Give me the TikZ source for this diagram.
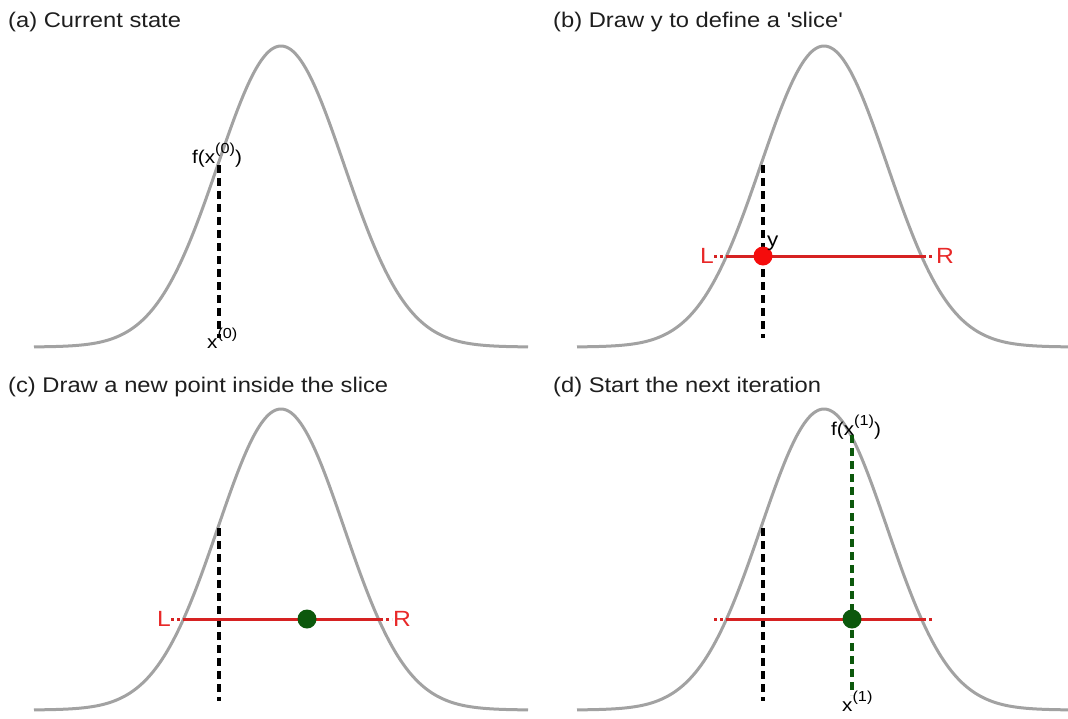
\documentclass[tikz,border=0pt]{standalone}
\usepackage{fontspec}
\setmainfont{Liberation Sans}[FakeStretch=1.12]
\definecolor{curvegray}{RGB}{162,162,162}
\definecolor{slicered}{RGB}{214,34,34}
\definecolor{labred}{RGB}{232,40,40}
\definecolor{dotred}{RGB}{245,12,12}
\definecolor{dkgreen}{RGB}{12,88,12}
\definecolor{titlegray}{RGB}{30,30,30}
\newcommand\supx[1]{\raisebox{0.5em}{\fontsize{14.5}{14.5}\selectfont #1}}
\begin{document}
\begin{tikzpicture}[x=1pt,y=-1pt,
  curve/.style={draw=curvegray, line width=3pt},
  blackdash/.style={draw=black, line width=3.2pt, dash pattern=on 8pt off 5pt},
  greendash/.style={draw=dkgreen, line width=3.2pt, dash pattern=on 8pt off 5pt},
  slice/.style={draw=slicered, line width=3pt},
  sliceext/.style={draw=slicered, line width=3pt, dash pattern=on 3pt off 3pt},
  title/.style={anchor=base west, inner sep=0pt, text=titlegray, font=\fontsize{21.2}{21.2}\selectfont},
  lab/.style={anchor=base west, inner sep=0pt, text=black, font=\fontsize{18.5}{18.5}\selectfont},
  lrlab/.style={inner sep=0pt, text=labred, font=\fontsize{22}{22}\selectfont},
  reddot/.style={circle, fill=dotred, minimum size=19pt, inner sep=0pt},
  greendot/.style={circle, fill=dkgreen, minimum size=19pt, inner sep=0pt}
]
\useasboundingbox (0,0) rectangle (1068,718);

% titles
\node[title] (ta) at (8,27) {(a) Current state};
\node[title] (tb) at (553,27) {(b) Draw y to define a \textquotesingle slice\textquotesingle};
\node[title] (tc) at (8,392) {(c) Draw a new point inside the slice};
\node[title] (td) at (553,392) {(d) Start the next iteration};

% panel a
\begin{scope}[shift={(0,0)}]
  \draw[curve] plot[domain=34:528, samples=140, smooth] (\x,{347-301*exp(-0.5*((\x-281)/63)^2)});
  \coordinate (a-top) at (219,165);
  \coordinate (a-bot) at (219,338);
  \draw[blackdash] (a-top) -- (a-bot);
  \node[lab] (a-f) at (192,163) {f(x\supx{(0)})};
  \node[lab] (a-x) at (207,348) {x\supx{(0)}};
\end{scope}

% panel b
\begin{scope}[shift={(543,0)}]
  \draw[curve] plot[domain=34:528, samples=140, smooth] (\x,{347-301*exp(-0.5*((\x-281)/63)^2)});
  \coordinate (b-top) at (220,165);
  \coordinate (b-bot) at (220,338);
  \draw[blackdash] (b-top) -- (b-bot);
  \coordinate (b-l) at (171,256);
  \coordinate (b-sl) at (184,256);
  \coordinate (b-sr) at (380,256);
  \coordinate (b-r) at (392,256);
  \draw[sliceext] (b-l) -- (b-sl);
  \draw[slice] (b-sl) -- (b-sr);
  \draw[sliceext] (b-sr) -- (b-r);
  \node[lrlab, anchor=east] (b-L) at (b-l) {L};
  \node[lrlab, anchor=west] (b-R) at ([xshift=1pt]b-r) {R};
  \node[reddot] (b-y) at (220,256) {};
  \node[lab, font=\fontsize{20}{20}\selectfont] (b-ylab) at (224,246) {y};
\end{scope}

% panel c
\begin{scope}[shift={(0,363)}]
  \draw[curve] plot[domain=34:528, samples=140, smooth] (\x,{347-301*exp(-0.5*((\x-281)/63)^2)});
  \coordinate (c-top) at (219,165);
  \coordinate (c-bot) at (219,338);
  \draw[blackdash] (c-top) -- (c-bot);
  \coordinate (c-l) at (171,256);
  \coordinate (c-sl) at (184,256);
  \coordinate (c-sr) at (380,256);
  \coordinate (c-r) at (392,256);
  \draw[sliceext] (c-l) -- (c-sl);
  \draw[slice] (c-sl) -- (c-sr);
  \draw[sliceext] (c-sr) -- (c-r);
  \node[lrlab, anchor=east] (c-L) at (c-l) {L};
  \node[lrlab, anchor=west] (c-R) at ([xshift=1pt]c-r) {R};
  \node[greendot] (c-new) at (307,256) {};
\end{scope}

% panel d
\begin{scope}[shift={(543,363)}]
  \draw[curve] plot[domain=34:528, samples=140, smooth] (\x,{347-301*exp(-0.5*((\x-281)/63)^2)});
  \coordinate (d-top) at (220,165);
  \coordinate (d-bot) at (220,338);
  \draw[blackdash] (d-top) -- (d-bot);
  \coordinate (d-l) at (171,256);
  \coordinate (d-sl) at (184,256);
  \coordinate (d-sr) at (380,256);
  \coordinate (d-r) at (392,256);
  \draw[sliceext] (d-l) -- (d-sl);
  \draw[slice] (d-sl) -- (d-sr);
  \draw[sliceext] (d-sr) -- (d-r);
  \coordinate (d-gtop) at (309,72);
  \coordinate (d-gbot) at (309,332);
  \draw[greendash] (d-gtop) -- (d-gbot);
  \node[greendot] (d-new) at (309,256) {};
  \node[lab] (d-f) at (288,72) {f(x\supx{(1)})};
  \node[lab] (d-x) at (299,348) {x\supx{(1)}};
\end{scope}
\end{tikzpicture}
\end{document}
